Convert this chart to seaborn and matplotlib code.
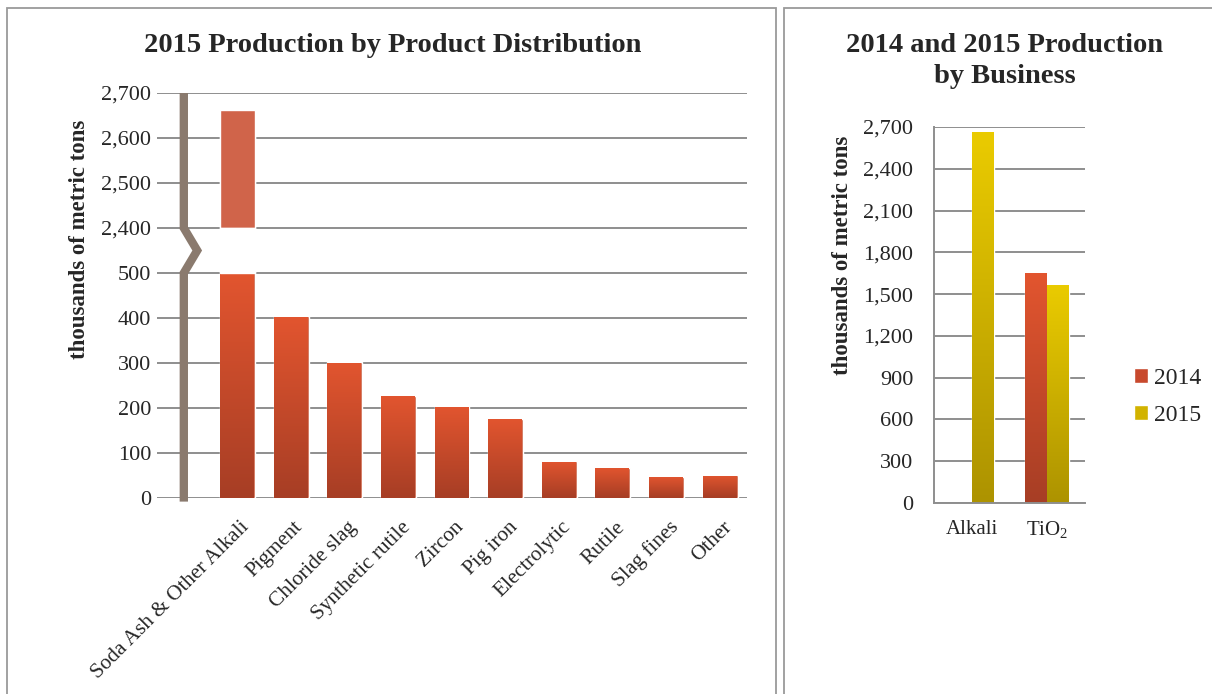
import matplotlib
matplotlib.use('Agg')
import matplotlib.pyplot as plt
import numpy as np
import pandas as pd
import seaborn as sns
from matplotlib.colors import LinearSegmentedColormap
from matplotlib.patches import Patch, Rectangle
from matplotlib.transforms import ScaledTranslation

# ---- data ----
products = ['Soda Ash & Other Alkali', 'Pigment', 'Chloride slag', 'Synthetic rutile',
            'Zircon', 'Pig iron', 'Electrolytic', 'Rutile', 'Slag fines', 'Other']
production_2015 = [2662, 404, 302, 227, 204, 176, 82, 67, 47, 51]

businesses = ['Alkali', 'TiO2']
business_labels = ['Alkali', 'TiO$_2$']
years = ['2014', '2015']
business_2014 = [0, 1651]
business_2015 = [2663, 1565]

left_ticks = [0, 100, 200, 300, 400, 500, 2400, 2500, 2600, 2700]
right_ticks = [0, 300, 600, 900, 1200, 1500, 1800, 2100, 2400, 2700]

# broken axis: 500 -> 2400 squeezed into one grid step
LO, HI, STEP = 500, 2400, 100


def fwd(y):
    y = np.asarray(y, dtype=float)
    return np.where(y <= LO, y / STEP,
                    np.where(y >= HI, LO / STEP + 1 + (y - HI) / STEP,
                             LO / STEP + (y - LO) / (HI - LO)))


def inv(s):
    s = np.asarray(s, dtype=float)
    return np.where(s <= LO / STEP, s * STEP,
                    np.where(s >= LO / STEP + 1, HI + (s - LO / STEP - 1) * STEP,
                             LO + (s - LO / STEP) * (HI - LO)))


RED_TOP, RED_BOT = '#E2552F', '#A73E25'
YEL_TOP, YEL_BOT = '#EACB00', '#AD9300'
GRID = '#8E8E8E'

sns.set_style('white')
plt.rcParams['font.family'] = ['Liberation Serif', 'DejaVu Serif']
plt.rcParams['mathtext.fontset'] = 'custom'
plt.rcParams['mathtext.rm'] = 'Liberation Serif'


def paint_gradient(ax, patch, bottom_color, top_color, cap=None):
    h = patch.get_height()
    if not np.isfinite(h) or h <= 0:
        return
    x0, y0, w = patch.get_x(), patch.get_y(), patch.get_width()
    y1 = y0 + h if cap is None else min(y0 + h, cap)
    cmap = LinearSegmentedColormap.from_list('grad', [bottom_color, top_color])
    ax.imshow(np.linspace(0, 1, 128).reshape(-1, 1), cmap=cmap, origin='lower',
              extent=(x0, x0 + w, y0, y1), aspect='auto', interpolation='bilinear',
              zorder=patch.get_zorder() + 0.1)


W, H = 1212, 694
fig = plt.figure(figsize=(W / 100, H / 100), dpi=100)

# panel frames
fig.add_artist(Rectangle((7 / W, -0.05), (776 - 7) / W, 1.05 - 8 / H, transform=fig.transFigure,
                         fill=False, edgecolor='#9A9A9A', lw=1.3))
fig.add_artist(Rectangle((784 / W, -0.05), 0.5, 1.05 - 8 / H, transform=fig.transFigure,
                         fill=False, edgecolor='#9A9A9A', lw=1.3))

# ---- left: product distribution ----
ax1 = fig.add_axes([157 / W, 1 - 498 / H, 590 / W, 405 / H])
df_left = pd.DataFrame({'Product': products, 'Production': production_2015})
sns.barplot(data=df_left, x='Product', y='Production', order=products, color=RED_TOP,
            width=0.65, errorbar=None, ax=ax1)
ax1.set_yscale('function', functions=(fwd, inv))

for patch in ax1.containers[0]:
    paint_gradient(ax1, patch, RED_BOT, RED_TOP, cap=LO)
    h = patch.get_height()
    if h > HI:
        ax1.bar(patch.get_x(), h - HI, bottom=HI, width=patch.get_width(), align='edge',
                color='#D0644A', zorder=3)
        ax1.bar(patch.get_x(), HI - LO, bottom=LO, width=patch.get_width(), align='edge',
                color='white', zorder=3)

ax1.plot([-1, -1, -0.75, -1, -1], [-8, LO, float(inv(LO / STEP + 0.5)), HI, 2700],
         color='#8A7A6E', lw=6, solid_capstyle='butt', solid_joinstyle='miter',
         clip_on=False, zorder=4)

ax1.set_xlim(-1.5, 9.5)
ax1.set_ylim(0, 2700)
ax1.set_yticks(left_ticks)
ax1.set_yticklabels([f'{t:,}' for t in left_ticks])
ax1.yaxis.grid(True, color=GRID, lw=1.4)
ax1.set_axisbelow(True)
for s in ax1.spines.values():
    s.set_visible(False)
ax1.tick_params(axis='y', length=0, pad=4, labelsize=16)
ax1.tick_params(axis='x', length=0, pad=19, labelsize=15.3)
ax1.set_xticks(range(len(products)))
ax1.set_xticklabels(products, rotation=45, ha='right', va='center', rotation_mode='anchor')
for lab in ax1.get_xticklabels():
    lab.set_transform(lab.get_transform() + ScaledTranslation(0.09, 0, fig.dpi_scale_trans))
ax1.set_xlabel('')
ax1.set_ylabel('')

# ---- right: production by business ----
ax2 = fig.add_axes([934 / W, 1 - 503 / H, 151 / W, 376 / H])
df_right = pd.DataFrame({
    'Business': businesses * 2,
    'Year': [years[0]] * len(businesses) + [years[1]] * len(businesses),
    'Production': business_2014 + business_2015,
})
sns.barplot(data=df_right, x='Business', y='Production', hue='Year', order=businesses,
            hue_order=years, palette=[RED_TOP, YEL_TOP], width=0.58, errorbar=None,
            legend=False, ax=ax2)
for cont, (bot, top) in zip(ax2.containers, [(RED_BOT, RED_TOP), (YEL_BOT, YEL_TOP)]):
    for patch in cont:
        paint_gradient(ax2, patch, bot, top)

ax2.set_xlim(-0.5, 1.5)
ax2.set_ylim(0, 2700)
ax2.set_yticks(right_ticks)
ax2.set_yticklabels([f'{t:,}' for t in right_ticks])
ax2.yaxis.grid(True, color=GRID, lw=1.4)
ax2.set_axisbelow(True)
ax2.spines['top'].set_visible(False)
ax2.spines['right'].set_visible(False)
for s in ('left', 'bottom'):
    ax2.spines[s].set_color(GRID)
    ax2.spines[s].set_linewidth(1.4)
ax2.tick_params(axis='y', length=0, pad=15, labelsize=16)
ax2.tick_params(axis='x', length=0, pad=12, labelsize=15)
ax2.set_xticks(range(len(businesses)))
ax2.set_xticklabels(business_labels)
ax2.set_xlabel('')
ax2.set_ylabel('')

handles = [Patch(facecolor='#C8492D', label=years[0]), Patch(facecolor='#D2B300', label=years[1])]
fig.legend(handles=handles, loc='center left', bbox_to_anchor=(1113 / W, 1 - 397 / H),
           frameon=False, fontsize=17, handlelength=0.6, handleheight=0.6,
           handletextpad=0.25, labelspacing=0.7)

# ---- titles and axis labels ----
fig.text(393 / W, 1 - 45 / H, '2015 Production by Product Distribution',
         ha='center', va='center', fontsize=20.5, fontweight='bold')
fig.text(1005 / W, 1 - 61 / H, '2014 and 2015 Production\nby Business',
         ha='center', va='center', fontsize=20.5, fontweight='bold', linespacing=1.28)
fig.text(80 / W, 1 - 239 / H, 'thousands of metric tons', rotation=90,
         ha='center', va='center', fontsize=16.5, fontweight='bold')
fig.text(843 / W, 1 - 255 / H, 'thousands of metric tons', rotation=90,
         ha='center', va='center', fontsize=16.5, fontweight='bold')

fig.savefig('out.png', dpi=100)
